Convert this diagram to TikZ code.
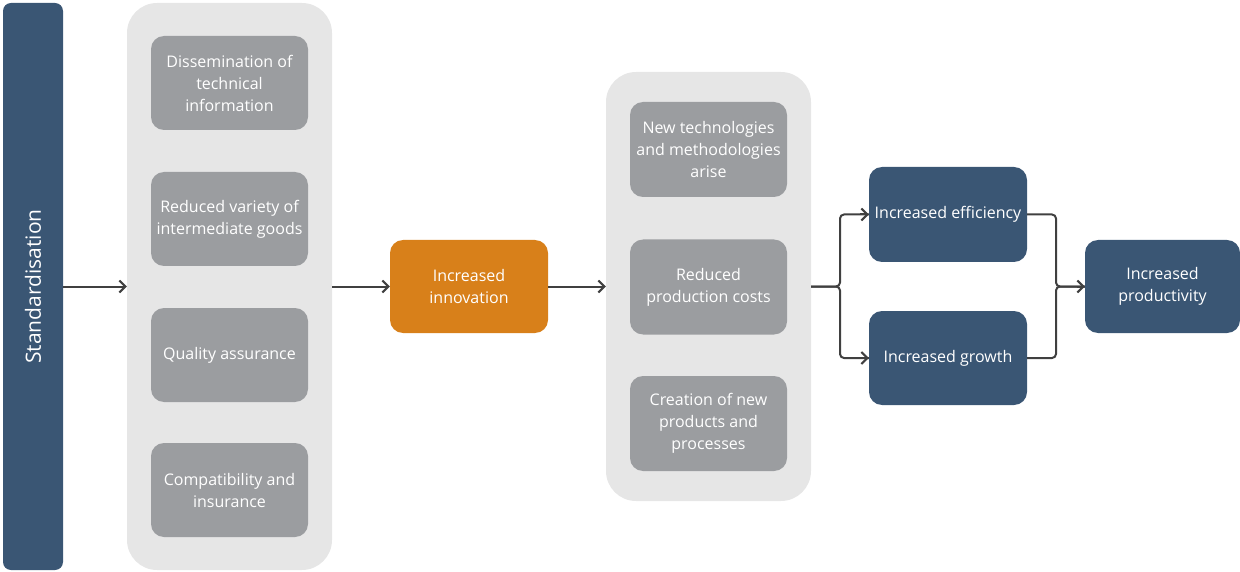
\documentclass[tikz,border=0pt]{standalone}
\usepackage{fontspec}
\setmainfont{Open Sans}
\usetikzlibrary{arrows.meta}

\definecolor{stdblue}{RGB}{58,86,116}
\definecolor{panelgray}{RGB}{230,230,230}
\definecolor{boxgray}{RGB}{155,157,160}
\definecolor{innoorange}{RGB}{216,128,26}
\definecolor{linegray}{RGB}{64,64,64}

\tikzset{
  panel/.style={rectangle, rounded corners=30, fill=panelgray, draw=none},
  graybox/.style={rectangle, rounded corners=13, fill=boxgray, text=white, align=center,
    minimum width=157, minimum height=94, inner sep=0pt, font=\fontsize{16}{22}\selectfont},
  bluebox/.style={graybox, fill=stdblue},
  flow/.style={draw=linegray, line width=2, -{Straight Barb[length=6,width=12,line width=2]}},
  joint/.style={draw=linegray, line width=2, rounded corners=4}
}

\begin{document}
\begin{tikzpicture}[x=1pt,y=1pt,yscale=-1,xscale=1]
\useasboundingbox (0,0) rectangle (1240,572);

% Standardisation bar
\node [rectangle, rounded corners=8, fill=stdblue, minimum width=60, minimum height=567, inner sep=0pt] (std) at (33,286.5) {};
\node [rotate=90, text=white, font=\fontsize{21}{24}\selectfont] (stdlabel) at (std.center) {Standardisation};

% Panels
\node [panel, minimum width=205, minimum height=567] (pan1) at (229.5,286.5) {};
\node [panel, minimum width=205, minimum height=429] (pan2) at (708.5,286.5) {};

% Text Node
\node [graybox] (dissem) at (229.5,83) {Dissemination of\\technical\\information};
% Text Node
\node [graybox] (variety) at (229.5,219) {Reduced variety of\\intermediate goods};
% Text Node
\node [graybox] (quality) at (229.5,355) {Quality assurance};
% Text Node
\node [graybox] (compat) at (229.5,490) {Compatibility and\\insurance};

% Text Node
\node [graybox, fill=innoorange, minimum width=158, minimum height=93] (innov) at (469,286.5) {Increased\\innovation};

% Text Node
\node [graybox, minimum height=95] (newtech) at (708.5,149.5) {New technologies\\and methodologies\\arise};
% Text Node
\node [graybox, minimum height=95] (costs) at (708.5,287) {Reduced\\production costs};
% Text Node
\node [graybox, minimum height=95] (creation) at (708.5,423.5) {Creation of new\\products and\\processes};

% Text Node
\node [bluebox, minimum width=158, minimum height=95] (effic) at (948,214.5) {Increased efficiency};
% Text Node
\node [bluebox, minimum width=158, minimum height=94] (growth) at (948,358) {Increased growth};
% Text Node
\node [bluebox, minimum width=155, minimum height=93] (product) at (1162.5,286.5) {Increased\\productivity};

\coordinate (split) at (840,286.5);
\coordinate (merge) at (1056,286.5);

% Straight Lines
\draw [flow] (std.east) -- (pan1.west);
\draw [flow] (pan1.east) -- (innov.west);
\draw [flow] (innov.east) -- (pan2.west);
% Branches
\draw [joint] (pan2.east) -- (split) |- (effic.west);
\draw [joint] (pan2.east) -- (split) |- (growth.west);
\draw [flow, shorten <=-1] ([xshift=-8]effic.west) -- (effic.west);
\draw [flow, shorten <=-1] ([xshift=-8]growth.west) -- (growth.west);
\draw [joint] (effic.east) -| (merge) -- (product.west);
\draw [joint] (growth.east) -| (merge) -- (product.west);
\draw [flow] ([xshift=-8]product.west) -- (product.west);

\end{tikzpicture}
\end{document}
